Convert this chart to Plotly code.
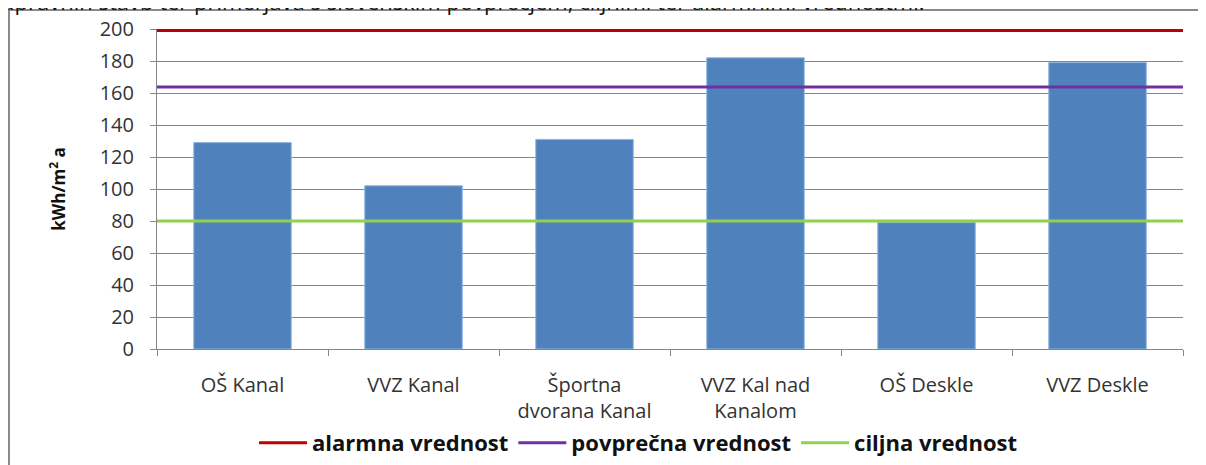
import plotly.graph_objects as go

categories = ["OŠ Kanal", "VVZ Kanal", "Športna<br>dvorana Kanal", "VVZ Kal nad<br>Kanalom", "OŠ Deskle", "VVZ Deskle"]
values = [129, 102, 131, 182, 79, 179]
ref_names = ["alarmna vrednost", "povprečna vrednost", "ciljna vrednost"]
ref_values = [199, 163.7, 80]
ref_colors = ["#C00000", "#7030A0", "#92D050"]
y_ticks = [0, 20, 40, 60, 80, 100, 120, 140, 160, 180, 200]

FONT = "Open Sans"
fig = go.Figure()
fig.add_trace(go.Bar(x=categories, y=values, marker=dict(color="#4F81BD", line=dict(color="#8EB4E3", width=1)),
                     width=0.57, showlegend=False))
for n, v, c in zip(ref_names, ref_values, ref_colors):
    fig.add_trace(go.Scatter(x=[-0.008, 1], y=[v, v], mode="lines", name=n, line=dict(color=c, width=3),
                             xaxis="x2", yaxis="y"))

# page has an 8px body margin: page pixel (X, Y) = figure pixel (X-8, Y-8)
OFF = 8
W, H = 1206 - OFF, 465 - OFF
PL, PR, PT, PB = 157, 1183, 29, 349   # plot area in page pixels
L, R, T, B = PL - OFF, (1206 - PR), PT - OFF, H - (PB - OFF)
pw, ph = PR - PL, PB - PT
def px(x): return (x - PL) / pw
def py(y): return (PB - y) / ph

fig.update_layout(
    width=W, height=H, margin=dict(l=L, r=R, t=T, b=B, autoexpand=False),
    paper_bgcolor="white", plot_bgcolor="white",
    font=dict(family=FONT, size=18, color="#222"),
    xaxis=dict(type="category", tickson="boundaries", ticks="outside", ticklen=6, tickcolor="#868686",
               showline=True, linecolor="#868686", showgrid=False, tickfont=dict(size=20, color="#333"),
               range=[-0.5, 5.5], ticklabelstandoff=18),
    xaxis2=dict(overlaying="x", range=[0, 1], visible=False),
    yaxis=dict(range=[0, 200], tickvals=y_ticks, ticks="outside", ticklen=6, tickcolor="#868686",
               showline=True, linecolor="#868686", showgrid=True, gridcolor="#868686", gridwidth=1,
               tickfont=dict(size=20, color="#333"), ticklabelstandoff=12,
               title=dict(text="kWh/m<sup>2</sup> a", font=dict(size=17, color="#111", weight="bold"), standoff=29)),
    legend=dict(orientation="h", x=px(638), xanchor="center", y=py(443), yanchor="middle",
                font=dict(size=22, color="#111", weight="bold"), itemwidth=48, tracegroupgap=0),
    shapes=[dict(type="rect", xref="paper", yref="paper", x0=px(9), x1=px(1215), y0=py(475), y1=py(10),
                 line=dict(color="#8a8a8a", width=2), fillcolor="rgba(0,0,0,0)", layer="below")],
    annotations=[dict(text="upravnih stavb ter primerjava s slovenskim povprečjem, ciljnimi ter alarmnimi vrednostmi.",
                      xref="paper", yref="paper", x=px(-1), y=py(18), xanchor="left", yanchor="bottom",
                      showarrow=False, font=dict(size=22, color="#111"))],
)
fig.write_html("out.html")
